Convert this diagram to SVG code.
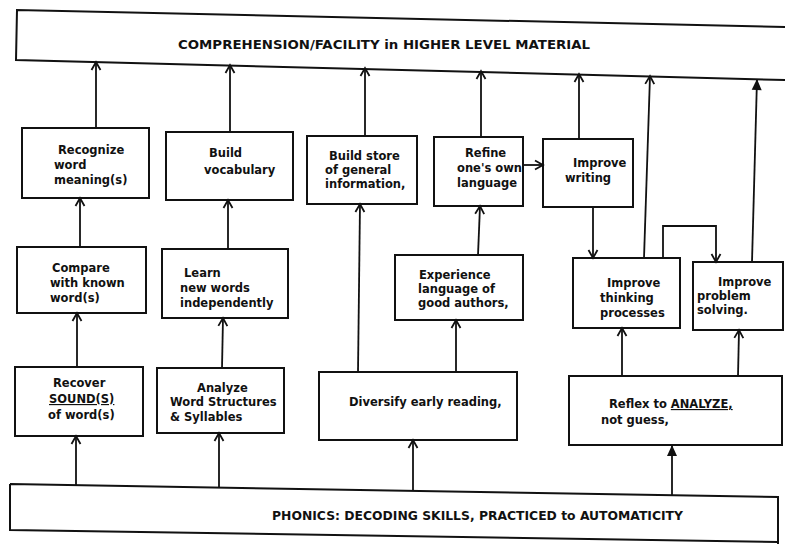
<svg xmlns="http://www.w3.org/2000/svg" width="785" height="544" viewBox="0 0 785 544">
<defs>
<style>
.bx{fill:#fff;stroke:#111;stroke-width:2}
.bn{fill:none;stroke:#111;stroke-width:2}
.t{font-family:"DejaVu Sans","Liberation Sans",sans-serif;font-weight:bold;font-size:11.5px;fill:#111}
.h{font-family:"DejaVu Sans","Liberation Sans",sans-serif;font-weight:bold;font-size:12px;fill:#111}
.c{fill:none;stroke:#111;stroke-width:1.8}
.u{text-decoration:underline}
</style>
<marker id="a" markerWidth="12" markerHeight="12" refX="10" refY="6" orient="auto" markerUnits="userSpaceOnUse"><path d="M2,1.5 L10,6 L2,10.5" fill="none" stroke="#111" stroke-width="1.8"/></marker>
<marker id="f" markerWidth="14" markerHeight="12" refX="12" refY="6" orient="auto" markerUnits="userSpaceOnUse"><path d="M1,1 L12,6 L1,11 z" fill="#111"/></marker>
</defs>
<rect width="785" height="544" fill="#fff"/>

<g id="top-banner">
<path class="bn" d="M785,27 L17,10 L16,60 L785,80"/>
<text class="h" x="178" y="49" textLength="412" lengthAdjust="spacingAndGlyphs">COMPREHENSION/FACILITY in HIGHER LEVEL MATERIAL</text>
</g>

<g id="bottom-banner">
<path class="bn" d="M10,484 L778,497 L778,544 M10,484 L10,530 L778,542"/>
<text class="h" x="272" y="520" textLength="411" lengthAdjust="spacingAndGlyphs">PHONICS: DECODING SKILLS, PRACTICED to AUTOMATICITY</text>
</g>

<g id="recognize">
<rect class="bx" x="22" y="128" width="127" height="70"/>
<text class="t"><tspan x="58" y="154">Recognize</tspan><tspan x="54" y="169">word</tspan><tspan x="54" y="184">meaning(s)</tspan></text>
</g>
<g id="build-vocabulary">
<rect class="bx" x="166" y="132" width="127" height="68"/>
<text class="t"><tspan x="209" y="157">Build</tspan><tspan x="204" y="174">vocabulary</tspan></text>
</g>
<g id="build-store">
<rect class="bx" x="307" y="136" width="110" height="68"/>
<text class="t"><tspan x="329" y="160">Build store</tspan><tspan x="325" y="174">of general</tspan><tspan x="325" y="188">information,</tspan></text>
</g>
<g id="refine">
<rect class="bx" x="434" y="137" width="89" height="69"/>
<text class="t"><tspan x="465" y="157">Refine</tspan><tspan x="457" y="172">one's own</tspan><tspan x="457" y="187">language</tspan></text>
</g>
<g id="improve-writing">
<rect class="bx" x="543" y="139" width="90" height="68"/>
<text class="t"><tspan x="573" y="167">Improve</tspan><tspan x="565" y="182">writing</tspan></text>
</g>

<g id="compare">
<rect class="bx" x="17" y="247" width="129" height="66"/>
<text class="t"><tspan x="52" y="272">Compare</tspan><tspan x="50" y="287">with known</tspan><tspan x="50" y="302">word(s)</tspan></text>
</g>
<g id="learn">
<rect class="bx" x="162" y="249" width="126" height="69"/>
<text class="t"><tspan x="184" y="277">Learn</tspan><tspan x="180" y="292">new words</tspan><tspan x="180" y="307">independently</tspan></text>
</g>
<g id="experience">
<rect class="bx" x="395" y="255" width="128" height="65"/>
<text class="t"><tspan x="419" y="279">Experience</tspan><tspan x="418" y="293">language of</tspan><tspan x="418" y="307">good authors,</tspan></text>
</g>
<g id="improve-thinking">
<rect class="bx" x="573" y="258" width="107" height="70"/>
<text class="t"><tspan x="607" y="287">Improve</tspan><tspan x="600" y="302">thinking</tspan><tspan x="600" y="317">processes</tspan></text>
</g>
<g id="improve-problem">
<rect class="bx" x="693" y="262" width="90" height="68"/>
<text class="t"><tspan x="718" y="286">Improve</tspan><tspan x="697" y="300">problem</tspan><tspan x="697" y="314">solving.</tspan></text>
</g>

<g id="recover">
<rect class="bx" x="15" y="367" width="128" height="69"/>
<text class="t"><tspan x="53" y="387">Recover</tspan><tspan x="49" y="403" class="u">SOUND(S)</tspan><tspan x="48" y="419">of word(s)</tspan></text>
</g>
<g id="analyze">
<rect class="bx" x="157" y="368" width="127" height="65"/>
<text class="t"><tspan x="197" y="392">Analyze</tspan><tspan x="170" y="406">Word Structures</tspan><tspan x="170" y="421">&amp; Syllables</tspan></text>
</g>
<g id="diversify">
<rect class="bx" x="319" y="372" width="198" height="68"/>
<text class="t" x="349" y="406">Diversify early reading,</text>
</g>
<g id="reflex">
<rect class="bx" x="569" y="376" width="213" height="69"/>
<text class="t"><tspan x="609" y="408">Reflex to </tspan><tspan class="u">ANALYZE,</tspan><tspan x="601" y="424">not guess,</tspan></text>
</g>

<g id="connectors">
<path class="c" marker-end="url(#a)" d="M96,128 L96,62"/>
<path class="c" marker-end="url(#a)" d="M230,132 L230,65"/>
<path class="c" marker-end="url(#a)" d="M365,136 L365,68"/>
<path class="c" marker-end="url(#a)" d="M481,137 L481,71"/>
<path class="c" marker-end="url(#a)" d="M579,139 L579,74"/>
<path class="c" marker-end="url(#a)" d="M644,258 L650,76"/>
<path class="c" marker-end="url(#f)" d="M752,262 L757,79"/>

<path class="c" marker-end="url(#a)" d="M80,247 L80,198"/>
<path class="c" marker-end="url(#a)" d="M228,249 L228,200"/>
<path class="c" marker-end="url(#a)" d="M478,255 L480,206"/>

<path class="c" marker-end="url(#a)" d="M77,367 L77,313"/>
<path class="c" marker-end="url(#a)" d="M222,368 L223,318"/>
<path class="c" marker-end="url(#a)" d="M358,372 L360,204"/>
<path class="c" marker-end="url(#a)" d="M456,372 L456,320"/>
<path class="c" marker-end="url(#a)" d="M622,376 L622,328"/>
<path class="c" marker-end="url(#a)" d="M738,376 L739,330"/>

<path class="c" marker-end="url(#a)" d="M523,165 L543,165"/>
<path class="c" marker-end="url(#a)" d="M593,207 L593,258"/>
<path class="c" marker-end="url(#a)" d="M663,258 L663,226 L716,226 L716,262"/>

<path class="c" marker-end="url(#a)" d="M76,485 L76,436"/>
<path class="c" marker-end="url(#a)" d="M219,487 L219,433"/>
<path class="c" marker-end="url(#a)" d="M413,491 L413,440"/>
<path class="c" marker-end="url(#f)" d="M672,495 L672,445"/>
</g>
</svg>
